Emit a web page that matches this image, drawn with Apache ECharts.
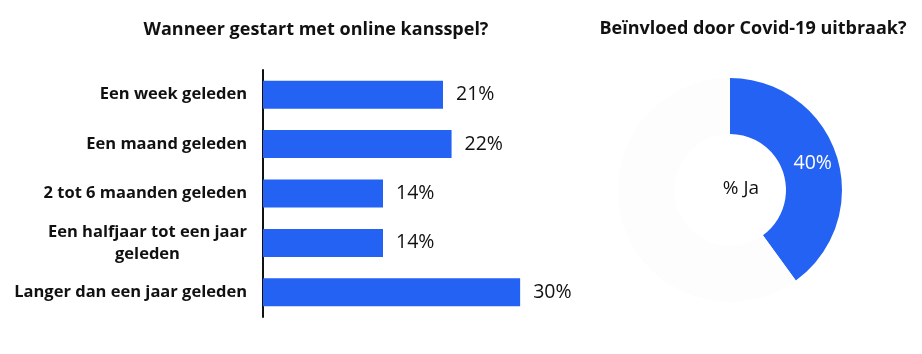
<!DOCTYPE html>
<html>
<head>
<meta charset="UTF-8">
<title></title>
<script src="https://cdn.jsdelivr.net/npm/echarts@6/dist/echarts.min.js"></script>
<style>
    html, body { margin: 0; padding: 0; background: #fff; }
    #content { width: 922px; height: 354px; }
</style>
</head>
<body>
<div id="content"></div>
<script>
    // data
    var categories = ['Een week geleden', 'Een maand geleden', '2 tot 6 maanden geleden',
        'Een halfjaar tot een jaar\ngeleden', 'Langer dan een jaar geleden'];
    var values = [21, 22, 14, 14, 30];
    var covidNames = ['Ja', 'Overig'];
    var covidValues = [40, 60];

    var blue = '#2462F4';
    var font = 'Open Sans';

    var myChart = echarts.init(document.getElementById('content'));

    var option = {
        backgroundColor: '#fff',
        textStyle: { fontFamily: font },
        title: [
            {
                text: 'Wanneer gestart met online kansspel?',
                left: 311, top: 16, textAlign: 'center',
                textStyle: { fontFamily: font, fontWeight: 'bold', fontSize: 18, color: '#111' }
            },
            {
                text: 'Beïnvloed door Covid-19 uitbraak?',
                left: 748, top: 15, textAlign: 'center',
                textStyle: { fontFamily: font, fontWeight: 'bold', fontSize: 18, color: '#111' }
            },
            {
                text: '% Ja',
                left: 736, top: 174, textAlign: 'center',
                textStyle: { fontFamily: font, fontWeight: 'normal', fontSize: 19, color: '#111' }
            }
        ],
        grid: { left: 263, top: 70, width: 300, height: 247 },
        xAxis: {
            type: 'value', min: 0, max: 35,
            show: false
        },
        yAxis: {
            type: 'category',
            inverse: true,
            data: categories,
            axisTick: { show: false },
            axisLine: { show: true, lineStyle: { color: '#111', width: 2 } },
            axisLabel: {
                margin: 16,
                fontFamily: font,
                fontWeight: 'bold',
                fontSize: 16.5,
                color: '#111',
                lineHeight: 22,
                formatter: function (v) {
                    var lines = v.split('\n');
                    if (lines.length > 1) {
                        return lines.map(function (l) { return '{c|' + l + '}'; }).join('\n');
                    }
                    return v;
                },
                rich: {
                    c: { align: 'center', fontFamily: font, fontWeight: 'bold', fontSize: 16.5, color: '#111', lineHeight: 22 }
                }
            }
        },
        series: [
            {
                type: 'bar',
                data: values,
                barWidth: 28,
                itemStyle: { color: blue },
                label: {
                    show: true,
                    position: 'right',
                    distance: 13,
                    formatter: '{c}%',
                    fontFamily: font,
                    fontSize: 19.5,
                    color: '#111'
                },
                silent: true
            },
            {
                type: 'pie',
                center: [730, 190],
                radius: [56, 112],
                startAngle: 90,
                clockwise: true,
                silent: true,
                data: [
                    {
                        name: covidNames[0], value: covidValues[0],
                        itemStyle: { color: blue },
                        label: {
                            show: true, position: 'inside', formatter: '{c}%',
                            fontFamily: font, fontSize: 19.5, color: '#fff'
                        }
                    },
                    {
                        name: covidNames[1], value: covidValues[1],
                        itemStyle: { color: '#fdfdfd' },
                        label: { show: false }
                    }
                ],
                labelLine: { show: false }
            }
        ]
    };

    myChart.setOption(option);
</script>
</body>
</html>
